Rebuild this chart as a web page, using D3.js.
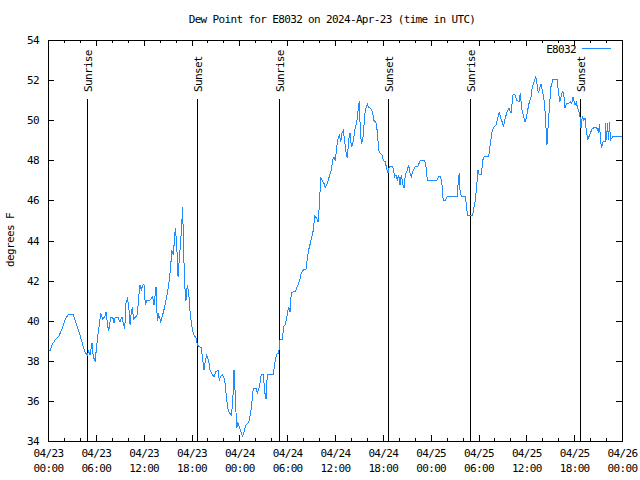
<!DOCTYPE html>
<html><head><meta charset="utf-8">
<script src="https://cdn.jsdelivr.net/npm/d3@7"></script>
<style>
body{margin:0;background:#fff}
svg text{font-family:"DejaVu Sans Mono",monospace;font-size:11px;letter-spacing:-0.65px;fill:#000}
</style></head><body>
<svg id="c" width="640" height="480"></svg>
<script>
const title = "Dew Point for E8032 on 2024-Apr-23 (time in UTC)";
const yLabel = "degrees F";
const seriesName = "E8032";
const startTime = "2024-04-23T00:00:00Z";
const endTime = "2024-04-26T00:00:00Z";
// hours since 2024-04-23 00:00 UTC
const hours = [0,0.25,0.5,1.0,1.34,1.76,2.09,2.51,3.17,3.51,3.93,4.35,4.68,4.93,5.11,5.27,5.52,5.68,5.93,6.02,
6.23,6.44,6.61,6.86,7.11,7.28,7.49,7.61,7.87,8.12,8.28,8.44,8.78,9.03,9.28,9.45,9.62,9.78,9.95,10.12,
10.29,10.45,10.62,10.70,10.95,11.20,11.38,11.54,11.70,11.88,12.04,12.21,12.38,12.71,12.96,13.13,13.30,13.55,13.71,13.89,
14.14,14.39,14.64,14.89,15.14,15.30,15.55,15.72,15.89,15.97,16.14,16.31,16.47,16.65,16.81,16.90,16.97,17.15,17.31,17.47,
17.65,17.81,17.98,18.15,18.31,18.57,18.73,18.98,19.23,19.41,19.57,19.73,19.91,20.16,20.32,20.57,20.82,21.07,21.32,21.49,
21.66,21.91,22.17,22.42,22.58,22.74,22.99,23.17,23.33,23.50,23.67,23.83,24.00,24.25,24.42,24.59,24.84,25.09,25.25,25.50,
25.75,26.09,26.25,26.51,26.76,27.01,27.18,27.35,27.51,28.26,28.44,28.69,28.94,29.01,29.10,29.44,29.52,29.77,30.02,30.19,
30.36,30.52,31.02,31.27,31.52,31.77,32.03,32.36,32.53,32.70,32.95,33.12,33.28,33.46,33.71,33.87,34.03,34.21,34.37,34.62,
34.78,35.04,35.29,35.54,35.71,35.88,36.04,36.21,36.38,36.54,36.72,36.88,37.04,37.22,37.38,37.54,37.72,37.88,38.05,38.22,
38.38,38.55,38.72,38.89,39.05,39.14,39.30,39.48,39.64,39.80,40.05,40.23,40.48,40.73,40.89,41.14,41.31,41.48,41.65,41.90,
42.06,42.31,42.49,42.65,42.81,43.24,43.49,43.65,43.82,43.99,44.15,44.32,44.49,44.66,44.82,45.07,45.25,45.41,45.57,45.82,
46.07,46.41,46.66,47.25,47.42,47.58,48.76,49.01,49.26,49.42,49.51,49.59,49.84,50.09,51.34,51.47,51.59,51.68,51.84,52.35,
52.52,52.60,53.27,53.44,53.60,53.78,53.94,54.10,54.35,54.53,54.69,55.28,55.44,55.70,55.95,56.20,56.45,56.61,56.79,56.95,
57.12,57.29,57.58,57.83,58.08,58.33,58.58,58.83,59.08,59.25,59.42,59.67,59.83,60.00,60.17,60.34,60.59,60.75,61.00,61.18,
61.34,61.50,61.68,61.84,62.00,62.26,62.43,62.51,62.59,62.76,62.93,63.09,63.35,63.85,64.01,64.19,64.35,64.51,64.69,64.85,
65.02,65.27,65.52,65.69,65.86,66.11,66.27,66.44,66.69,66.86,67.02,67.20,67.36,67.52,67.70,67.86,68.11,68.28,68.70,68.87,
69.03,69.21,69.28,69.46,69.62,69.87,69.96,70.04,70.21,70.29,70.46,70.53,70.71,70.87,71.96];
const dewPoint = [38.57,38.5,38.8,39.1,39.2,39.6,40.0,40.3,40.3,39.87,39.4,38.8,38.4,38.3,38.5,38.3,38.9,38.2,37.96,38.4,
39.2,39.8,40.4,40.1,40.2,40.43,39.74,39.5,40.17,40.17,39.9,40.17,40.17,39.94,40.2,39.87,39.57,40.87,41.1,40.8,
39.8,40.45,40.7,40.07,40.17,40.3,41.2,41.78,41.53,41.78,41.8,40.8,41.0,41.0,41.1,41.2,40.8,41.7,40.0,40.3,
39.95,40.3,40.7,41.2,41.78,42.36,43.5,43.28,44.2,44.6,43.86,42.2,43.1,44.0,45.06,45.66,44.0,41.78,41.0,41.78,
41.37,40.5,39.87,39.5,39.29,39.12,38.8,38.7,38.67,38.04,37.54,38.0,38.3,38.0,37.54,37.34,37.2,37.46,37.54,37.0,
37.24,37.3,37.04,36.04,35.58,35.41,35.3,35.88,37.54,36.2,34.63,34.92,34.72,34.38,34.25,34.46,34.8,34.88,35.05,35.63,
36.63,36.63,36.4,36.7,37.34,37.34,36.46,36.08,37.34,37.34,37.87,38.34,38.37,38.7,39.04,39.04,39.7,39.8,40.33,40.7,
40.45,41.42,41.45,41.7,41.95,42.36,42.53,42.56,43.1,43.53,43.94,44.22,44.52,45.22,45.1,44.94,45.69,47.15,47.0,46.85,
46.63,46.85,47.2,47.5,48.0,48.18,47.98,48.65,49.05,49.26,48.93,49.35,49.48,48.93,48.43,48.1,49.0,49.38,48.68,48.8,
49.18,49.68,49.85,50.48,50.97,49.85,48.8,49.0,49.76,50.5,50.8,50.64,50.6,50.37,49.98,49.88,49.43,48.51,48.35,48.26,
48.0,47.93,47.55,47.38,47.68,47.68,47.18,47.27,47.02,47.27,46.77,47.27,46.85,46.6,47.27,47.52,47.77,47.35,47.18,47.52,
47.68,47.7,47.98,47.98,47.68,46.98,46.98,47.18,47.18,46.77,46.27,45.99,46.0,46.2,46.2,47.02,47.38,46.52,46.18,46.18,
45.69,45.27,45.27,45.69,46.0,46.77,47.52,47.27,47.27,48.0,48.18,48.18,48.68,49.43,49.68,49.76,50.17,50.42,50.1,49.93,
49.68,50.0,50.42,50.59,50.34,51.26,51.26,50.97,50.93,51.34,50.59,50.17,49.93,50.1,50.5,50.84,51.17,51.67,51.97,52.17,
51.8,51.34,51.59,51.8,51.5,50.93,50.0,49.18,48.76,49.85,50.84,51.67,52.04,52.04,51.5,50.93,51.17,51.42,51.34,50.59,
50.84,50.84,50.93,50.84,51.14,50.76,50.88,50.59,50.34,49.6,50.17,50.0,50.1,49.51,49.01,49.18,49.43,49.6,49.63,49.6,
49.43,49.81,48.93,48.68,48.93,48.93,49.85,49.0,49.85,49.0,49.93,49.0,49.1,49.2,49.2];
const eventHours = [4.9, 18.72, 28.98, 42.7, 52.95, 66.77];
const eventLabels = ["Sunrise","Sunset","Sunrise","Sunset","Sunrise","Sunset"];
const yTicks = [34,36,38,40,42,44,46,48,50,52,54];

const svg = d3.select("#c");
const L = 48, R = 622, T = 40, B = 441;
const t0 = new Date(startTime), t1 = new Date(endTime);
const toDate = h => new Date(t0.getTime() + h * 3600000);
const x = d3.scaleUtc().domain([t0, t1]).range([L, R]);
const y = d3.scaleLinear().domain([34, 54]).range([B, T]);

const majorX = d3.utcHour.every(6).range(t0, new Date(t1.getTime() + 1));
const minorX = d3.utcHour.every(2).range(t0, new Date(t1.getTime() + 1)).filter(d => d.getUTCHours() % 6 !== 0);

// title
svg.append("text").attr("x", 332).attr("y", 23).attr("text-anchor", "middle").text(title);
// y label
svg.append("text").attr("transform", "translate(14,240) rotate(-90)").attr("text-anchor", "middle").text(yLabel);

// axes
const gB = svg.append("g").attr("transform", `translate(0,${B})`)
  .call(d3.axisBottom(x).tickValues(majorX).tickSizeInner(-6).tickSizeOuter(0).tickPadding(0));
gB.selectAll(".tick text").each(function(d) {
  const t = d3.select(this);
  t.text(null).attr("y", 16).attr("dy", 0);
  t.append("tspan").attr("x", 0).text(d3.utcFormat("%m/%d")(d));
  t.append("tspan").attr("x", 0).attr("dy", 15).text(d3.utcFormat("%H:%M")(d));
});
svg.append("g").attr("transform", `translate(0,${B})`)
  .call(d3.axisBottom(x).tickValues(minorX).tickSizeInner(-3).tickSizeOuter(0).tickFormat(""));
svg.append("g").attr("transform", `translate(0,${T})`)
  .call(d3.axisTop(x).tickValues(majorX).tickSizeInner(-6).tickSizeOuter(0).tickFormat(""));
svg.append("g").attr("transform", `translate(0,${T})`)
  .call(d3.axisTop(x).tickValues(minorX).tickSizeInner(-3).tickSizeOuter(0).tickFormat(""));
svg.append("g").attr("transform", `translate(${L},0)`)
  .call(d3.axisLeft(y).tickValues(yTicks).tickSizeInner(-6).tickSizeOuter(0).tickPadding(9).tickFormat(d3.format("d")));
svg.append("g").attr("transform", `translate(${R},0)`)
  .call(d3.axisRight(y).tickValues(yTicks).tickSizeInner(-6).tickSizeOuter(0).tickFormat(""));
svg.selectAll(".domain").remove();
svg.selectAll(".tick line").attr("stroke", "#000").attr("shape-rendering", "crispEdges");

// sunrise / sunset markers
eventHours.forEach((h, i) => {
  const ex = Math.round(x(toDate(h)));
  svg.append("line").attr("x1", ex + 0.5).attr("x2", ex + 0.5).attr("y1", 99).attr("y2", B)
    .attr("stroke", "#000").attr("shape-rendering", "crispEdges");
  svg.append("text").attr("transform", `translate(${ex + 1},92) rotate(-90)`)
    .attr("text-anchor", "start").attr("dy", "0.35em").text(eventLabels[i]);
});

// series
const pts = hours.map((h, i) => [toDate(h), dewPoint[i]]);
svg.append("path").datum(pts)
  .attr("fill", "none").attr("stroke", "#1e8cff").attr("stroke-width", 1)
  .attr("shape-rendering", "crispEdges")
  .attr("d", d3.line().x(d => x(d[0])).y(d => y(d[1])));

// frame
svg.append("rect").attr("x", L + 0.5).attr("y", T + 0.5).attr("width", R - L).attr("height", B - T)
  .attr("fill", "none").attr("stroke", "#000").attr("shape-rendering", "crispEdges");

// legend
svg.append("text").attr("x", 576).attr("y", 49).attr("dy", "0.35em").attr("text-anchor", "end").text(seriesName);
svg.append("line").attr("x1", 582).attr("x2", 611).attr("y1", 48.5).attr("y2", 48.5)
  .attr("stroke", "#1e8cff").attr("shape-rendering", "crispEdges");
</script></body></html>
